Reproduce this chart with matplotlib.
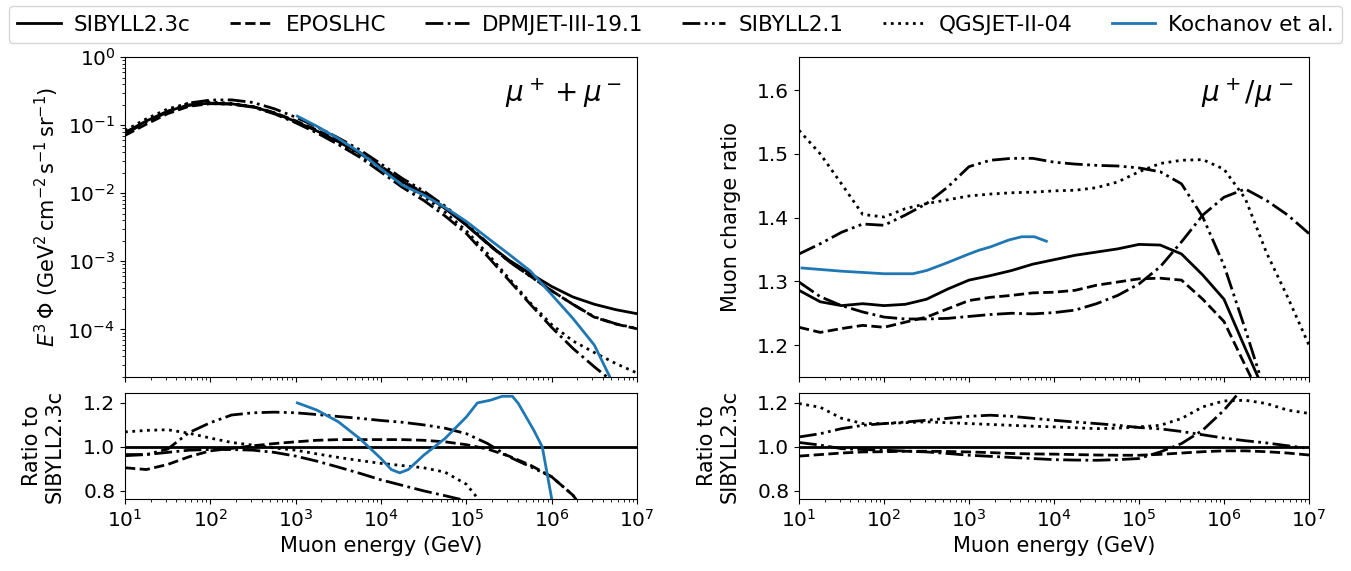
import numpy as np
import matplotlib
matplotlib.use("Agg")
import matplotlib.pyplot as plt

# ---------------- data ----------------
# common energy grid (log10 of muon energy in GeV)
log_e = [1.0, 1.25, 1.5, 1.75, 2.0, 2.25, 2.5, 2.75, 3.0, 3.25, 3.5, 3.75, 4.0,
         4.25, 4.5, 4.75, 5.0, 5.25, 5.5, 5.75, 6.0, 6.25, 6.5, 6.75, 7.0]

models = ["SIBYLL2.3c", "EPOSLHC", "DPMJET-III-19.1", "SIBYLL2.1", "QGSJET-II-04"]

# E^3 * flux (GeV^2 cm^-2 s^-1 sr^-1)
flux_sib23c = [0.078, 0.115, 0.16, 0.198, 0.21, 0.205, 0.186, 0.15, 0.113, 0.082, 0.057,
               0.0385, 0.024, 0.0148, 0.0098, 0.00596, 0.00339, 0.00182, 0.00104,
               0.00066, 0.000427, 0.000299, 0.000234, 0.000195, 0.00017]
flux_epos = [0.0706, 0.1032, 0.1472, 0.1891, 0.2062, 0.2036, 0.1869, 0.1523, 0.1156,
             0.0845, 0.0589, 0.0398, 0.0248, 0.01529, 0.01009, 0.0061, 0.00342, 0.0018,
             0.000996, 0.000605, 0.000369, 0.000233, 0.000151, 0.00012, 0.000102]
flux_dpmjet = [0.0753, 0.111, 0.156, 0.195, 0.2075, 0.2025, 0.1832, 0.1463, 0.1083,
               0.0767, 0.0518, 0.0339, 0.0204, 0.0122, 0.00784, 0.00464, 0.00256,
               0.001175, 0.000525, 0.000234, 0.000107, 5.25e-5, 2.82e-5, 1.58e-5, 1.0e-5]
flux_sib21 = [0.0749, 0.111, 0.1584, 0.2109, 0.2331, 0.2347, 0.2148, 0.1737, 0.1305,
              0.0941, 0.0649, 0.0435, 0.0269, 0.01646, 0.01078, 0.00647, 0.00359,
              0.00185, 0.000993, 0.000601, 0.000369, 0.000233, 0.000153, 0.000121, 0.000103]
flux_qgsjet = [0.0833, 0.1236, 0.1725, 0.2103, 0.2184, 0.2091, 0.1875, 0.1493, 0.1113,
               0.0794, 0.0543, 0.0361, 0.0222, 0.01354, 0.00887, 0.00527, 0.00281,
               0.00129, 0.00056, 0.000245, 0.0001175, 6.76e-5, 4.57e-5, 3.16e-5, 2.29e-5]

log_e_koch_flux = [3.02, 3.25, 3.5, 3.75, 4.0, 4.25, 4.5, 4.75, 5.0, 5.25, 5.5, 5.75,
                   6.0, 6.25, 6.5, 6.7]
flux_koch = [0.1355, 0.0959, 0.0635, 0.0399, 0.0227, 0.01315, 0.0094, 0.00618, 0.00385,
             0.0022, 0.001268, 0.00072, 0.000324, 0.0001445, 5.89e-5, 1.8e-5]

# flux ratio to SIBYLL2.3c
log_e_ref = [1.0, 7.0]
fratio_sib23c = [1.0, 1.0]
fratio_epos = [0.905, 0.897, 0.92, 0.955, 0.982, 0.993, 1.005, 1.015, 1.023, 1.03, 1.033,
               1.033, 1.033, 1.033, 1.03, 1.023, 1.01, 0.99, 0.958, 0.917, 0.864, 0.78,
               0.646, 0.617, 0.60]
fratio_dpmjet = [0.965, 0.965, 0.975, 0.985, 0.988, 0.988, 0.985, 0.975, 0.958, 0.935,
                 0.908, 0.88, 0.85, 0.825, 0.80, 0.778, 0.755, 0.646]
fratio_sib21 = [0.96, 0.965, 0.99, 1.065, 1.11, 1.145, 1.155, 1.158, 1.155, 1.147, 1.138,
                1.13, 1.12, 1.112, 1.10, 1.085, 1.06, 1.015, 0.955, 0.91, 0.864, 0.78,
                0.65, 0.62, 0.60]
fratio_qgsjet = [1.068, 1.075, 1.078, 1.062, 1.04, 1.02, 1.008, 0.995, 0.985, 0.968, 0.952,
                 0.938, 0.925, 0.915, 0.905, 0.885, 0.83, 0.71, 0.54]
log_e_koch_ratio = [3.02, 3.25, 3.5, 3.75, 4.0, 4.12, 4.22, 4.32, 4.5, 4.75, 5.0, 5.13,
                    5.28, 5.42, 5.54, 5.61, 5.79, 5.89, 6.0, 6.03]
fratio_koch = [1.2, 1.167, 1.114, 1.038, 0.947, 0.897, 0.882, 0.897, 0.962, 1.038, 1.136,
               1.2, 1.212, 1.23, 1.23, 1.197, 1.076, 1.0, 0.765, 0.70]

# muon charge ratio mu+/mu-
cr_sib23c = [1.286, 1.268, 1.262, 1.265, 1.262, 1.264, 1.272, 1.288, 1.302, 1.309, 1.317,
             1.327, 1.334, 1.341, 1.346, 1.351, 1.358, 1.357, 1.343, 1.31, 1.272, 1.195,
             1.12, 1.05, 0.98]
cr_epos = [1.228, 1.22, 1.226, 1.231, 1.228, 1.236, 1.244, 1.257, 1.27, 1.275, 1.278,
           1.282, 1.283, 1.286, 1.294, 1.299, 1.304, 1.305, 1.302, 1.272, 1.237, 1.168,
           1.10, 1.03, 0.96]
cr_dpmjet = [1.299, 1.276, 1.262, 1.252, 1.244, 1.241, 1.241, 1.242, 1.245, 1.248, 1.25,
             1.249, 1.251, 1.255, 1.265, 1.278, 1.296, 1.323, 1.362, 1.404, 1.432, 1.445,
             1.427, 1.404, 1.375]
cr_sib21 = [1.343, 1.359, 1.377, 1.39, 1.388, 1.404, 1.422, 1.448, 1.48, 1.49, 1.493,
            1.493, 1.487, 1.484, 1.482, 1.481, 1.478, 1.472, 1.453, 1.401, 1.325, 1.225,
            1.12, 1.05, 1.0]
cr_qgsjet = [1.537, 1.5, 1.453, 1.405, 1.401, 1.414, 1.422, 1.428, 1.434, 1.437, 1.439,
             1.44, 1.442, 1.443, 1.447, 1.456, 1.472, 1.485, 1.49, 1.491, 1.476, 1.43,
             1.345, 1.275, 1.2]
log_e_koch_cr = [1.035, 1.5, 2.0, 2.34, 2.5, 2.72, 3.0, 3.12, 3.25, 3.47, 3.62, 3.77, 3.91]
cr_koch = [1.321, 1.316, 1.312, 1.312, 1.317, 1.328, 1.343, 1.349, 1.354, 1.365, 1.37,
           1.37, 1.363]

# charge ratio relative to SIBYLL2.3c
cratio_sib23c = [1.0, 1.0]
cratio_epos = [0.958, 0.965, 0.972, 0.977, 0.978, 0.98, 0.98, 0.979, 0.977, 0.974, 0.97,
               0.968, 0.967, 0.965, 0.963, 0.962, 0.962, 0.966, 0.972, 0.978, 0.982, 0.982,
               0.978, 0.972, 0.963]
cratio_dpmjet = [1.02, 1.008, 0.992, 0.988, 0.985, 0.981, 0.977, 0.97, 0.962, 0.957, 0.952,
                 0.947, 0.942, 0.94, 0.939, 0.942, 0.947, 0.977, 1.015, 1.076, 1.167, 1.28]
cratio_sib21 = [1.045, 1.06, 1.083, 1.098, 1.106, 1.113, 1.121, 1.13, 1.139, 1.144, 1.139,
                1.13, 1.121, 1.113, 1.106, 1.098, 1.088, 1.082, 1.07, 1.055, 1.04, 1.028,
                1.018, 1.005, 0.993]
cratio_qgsjet = [1.197, 1.18, 1.13, 1.106, 1.106, 1.11, 1.114, 1.11, 1.106, 1.102, 1.098,
                 1.094, 1.091, 1.087, 1.083, 1.085, 1.091, 1.098, 1.129, 1.182, 1.209, 1.212,
                 1.197, 1.167, 1.152]

xtick_exp = [1, 2, 3, 4, 5, 6, 7]

# ---------------- style ----------------
plt.rcParams['font.family'] = ['DejaVu Sans']
plt.rcParams['mathtext.fontset'] = 'dejavusans'
TICK_FS = 14.5
LABEL_FS = 15
LEG_FS = 15.5
LW = 2.0
BLUE = '#1f77b4'
ls_map = {
    "SIBYLL2.3c": '-',
    "EPOSLHC": '--',
    "DPMJET-III-19.1": '-.',
    "SIBYLL2.1": (0, (6.4, 1.6, 1.0, 1.6, 1.0, 1.6)),
    "QGSJET-II-04": ':',
}

def E(lst):
    return 10.0 ** np.asarray(lst)

fig = plt.figure(figsize=(13.51, 5.71), dpi=100)
W, H = 1351.0, 571.0

def rect(x0, y0, x1, y1):
    return [x0 / W, 1 - y1 / H, (x1 - x0) / W, (y1 - y0) / H]

ax1 = fig.add_axes(rect(125, 57, 637, 377))
ax1r = fig.add_axes(rect(125, 393, 637, 499))
ax2 = fig.add_axes(rect(799, 57, 1309, 377))
ax2r = fig.add_axes(rect(799, 393, 1309, 499))

flux_sets = [flux_sib23c, flux_epos, flux_dpmjet, flux_sib21, flux_qgsjet]
fratio_sets = [fratio_sib23c, fratio_epos, fratio_dpmjet, fratio_sib21, fratio_qgsjet]
cr_sets = [cr_sib23c, cr_epos, cr_dpmjet, cr_sib21, cr_qgsjet]
cratio_sets = [cratio_sib23c, cratio_epos, cratio_dpmjet, cratio_sib21, cratio_qgsjet]

handles = []
for name, fl, fr, cr, crr in zip(models, flux_sets, fratio_sets, cr_sets, cratio_sets):
    ls = ls_map[name]
    h, = ax1.plot(E(log_e[:len(fl)]), fl, color='k', ls=ls, lw=LW, label=name)
    handles.append(h)
    xr = log_e_ref if len(fr) == 2 else log_e[:len(fr)]
    ax1r.plot(E(xr), fr, color='k', ls=ls, lw=LW)
    ax2.plot(E(log_e[:len(cr)]), cr, color='k', ls=ls, lw=LW)
    xc = log_e_ref if len(crr) == 2 else log_e[:len(crr)]
    ax2r.plot(E(xc), crr, color='k', ls=ls, lw=LW)

hk, = ax1.plot(E(log_e_koch_flux), flux_koch, color=BLUE, lw=LW, label='Kochanov et al.')
handles.append(hk)
ax1r.plot(E(log_e_koch_ratio), fratio_koch, color=BLUE, lw=LW)
ax2.plot(E(log_e_koch_cr), cr_koch, color=BLUE, lw=LW)

for ax in (ax1, ax1r, ax2, ax2r):
    ax.set_xscale('log')
    ax.set_xlim(10, 1e7)
    ax.set_xticks(E(xtick_exp))
    ax.tick_params(labelsize=TICK_FS)

ax1.set_yscale('log')
ax1.set_ylim(2e-5, 1.0)
ax1.set_yticks([1e-4, 1e-3, 1e-2, 1e-1, 1e0])
ax1.tick_params(axis='x', labelbottom=False)
ax2.tick_params(axis='x', labelbottom=False)

for ax in (ax1r, ax2r):
    ax.set_ylim(0.763, 1.245)
    ax.set_yticks([0.8, 1.0, 1.2])
    ax.set_xlabel('Muon energy (GeV)', fontsize=LABEL_FS)
    ax.set_ylabel('Ratio to\nSIBYLL2.3c', fontsize=LABEL_FS)

ax2.set_ylim(1.15, 1.652)
ax2.set_yticks([1.2, 1.3, 1.4, 1.5, 1.6])

ax1.set_ylabel(r'$E^3\,\Phi$ (GeV$^2\,$cm$^{-2}\,$s$^{-1}\,$sr$^{-1}$)', fontsize=LABEL_FS)
ax2.set_ylabel('Muon charge ratio', fontsize=LABEL_FS)

ax1.yaxis.set_label_coords(-0.125, 0.5)
ax1r.yaxis.set_label_coords(-0.117, 0.5)
ax2.yaxis.set_label_coords(-0.114, 0.5)
ax2r.yaxis.set_label_coords(-0.116, 0.5)

ax1.text(0.97, 0.94, r'$\mu^+ + \mu^-$', transform=ax1.transAxes, ha='right', va='top',
         fontsize=20)
ax2.text(0.97, 0.94, r'$\mu^+/\mu^-$', transform=ax2.transAxes, ha='right', va='top',
         fontsize=20)

fig.legend(handles=handles, labels=[h.get_label() for h in handles], ncol=6,
           loc='upper center', bbox_to_anchor=(0.5, 0.997), fontsize=LEG_FS,
           handlelength=2.0, columnspacing=1.83, handletextpad=0.6, frameon=True,
           fancybox=True, edgecolor='0.8', borderaxespad=0.2)

fig.savefig('out.png', dpi=100)
